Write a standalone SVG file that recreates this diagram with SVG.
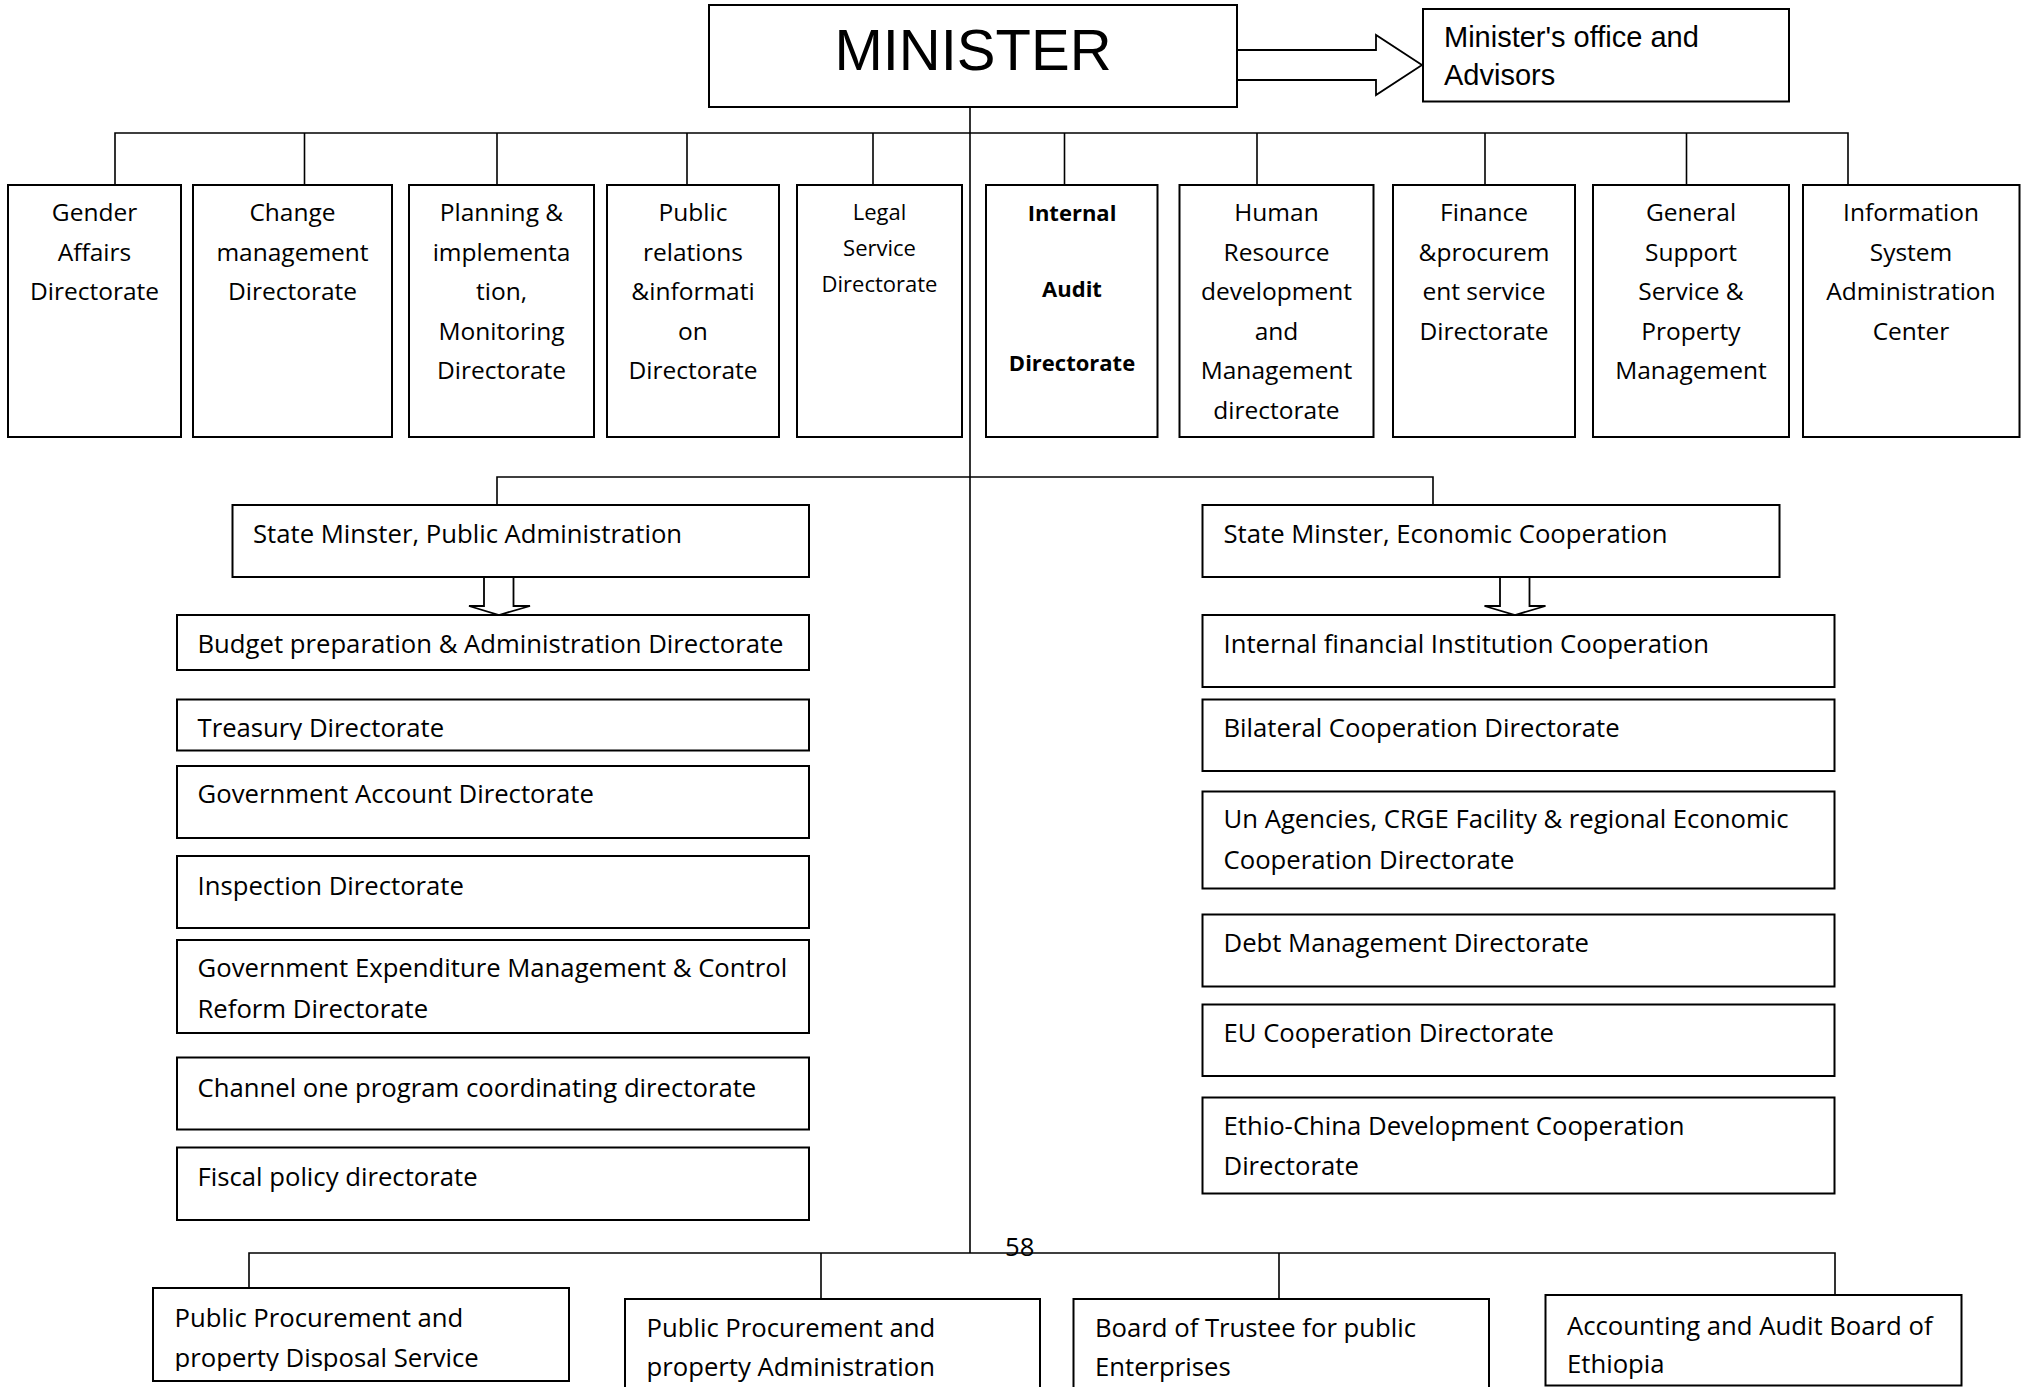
<svg xmlns="http://www.w3.org/2000/svg" width="2028" height="1387" viewBox="0 0 2028 1387">
<style>
.box{fill:#fff;stroke:#000;stroke-width:2}
.ln{fill:none;stroke:#000;stroke-width:1.6}
.harrow{fill:#fff;stroke:#000;stroke-width:1.8;stroke-linejoin:miter}
.t{font-family:"Open Sans","Noto Sans",sans-serif;font-size:24.5px;fill:#000}
.w{font-size:25.7px}
.c{text-anchor:middle}
.sm{font-size:22px}
.b{font-weight:bold;font-size:22px}
.ar{font-family:"Liberation Sans",Arial,sans-serif;fill:#000}
</style>
<defs>
<clipPath id="clipTreasury"><rect x="177" y="699" width="632" height="41"/></clipPath>
<clipPath id="clipPP1"><rect x="153" y="1288" width="416" height="83"/></clipPath>
</defs>
<rect width="2028" height="1387" fill="#fff"/>
<g id="connectors">
<line class="ln" x1="970" y1="107" x2="970" y2="1253"/>
<polyline class="ln" points="115,185 115,133 1848,133 1848,185"/>
<line class="ln" x1="304.5" y1="133" x2="304.5" y2="185"/>
<line class="ln" x1="497" y1="133" x2="497" y2="185"/>
<line class="ln" x1="687" y1="133" x2="687" y2="185"/>
<line class="ln" x1="873" y1="133" x2="873" y2="185"/>
<line class="ln" x1="1064.5" y1="133" x2="1064.5" y2="185"/>
<line class="ln" x1="1257" y1="133" x2="1257" y2="185"/>
<line class="ln" x1="1485" y1="133" x2="1485" y2="185"/>
<line class="ln" x1="1686.5" y1="133" x2="1686.5" y2="185"/>
<polyline class="ln" points="497,505 497,477 1433,477 1433,505"/>
<polyline class="ln" points="249,1288 249,1253 1835,1253 1835,1295"/>
<line class="ln" x1="821" y1="1253" x2="821" y2="1299"/>
<line class="ln" x1="1279" y1="1253" x2="1279" y2="1299"/>
<polygon class="harrow" points="1237,50 1376,50 1376,35 1422,65 1376,95 1376,80 1237,80"/>
<polygon class="harrow" points="484,577 513.5,577 513.5,606 530,606 499,615 469,606 484,606"/>
<polygon class="harrow" points="1500,577 1529.5,577 1529.5,606 1545.5,606 1515,615 1484.5,606 1500,606"/>
</g>
<g id="minister">
<rect class="box" x="709" y="5" width="528" height="102"/>
<text class="ar" x="973" y="70" font-size="58" text-anchor="middle">MINISTER</text>
</g>
<g id="ministers-office">
<rect class="box" x="1423" y="9" width="366" height="92.5"/>
<text class="ar" x="1444" y="46.5" font-size="29">Minister's office and</text>
<text class="ar" x="1444" y="85" font-size="29">Advisors</text>
</g>
<g id="gender">
<rect class="box" x="8" y="185" width="173" height="252"/>
<text class="t c" x="94.5" y="221">Gender</text>
<text class="t c" x="94.5" y="260.5">Affairs</text>
<text class="t c" x="94.5" y="300">Directorate</text>
</g>
<g id="change">
<rect class="box" x="193" y="185" width="199" height="252"/>
<text class="t c" x="292.5" y="221">Change</text>
<text class="t c" x="292.5" y="260.5">management</text>
<text class="t c" x="292.5" y="300">Directorate</text>
</g>
<g id="planning">
<rect class="box" x="409" y="185" width="185" height="252"/>
<text class="t c" x="501.5" y="221">Planning &amp;</text>
<text class="t c" x="501.5" y="260.5">implementa</text>
<text class="t c" x="501.5" y="300">tion,</text>
<text class="t c" x="501.5" y="339.5">Monitoring</text>
<text class="t c" x="501.5" y="379">Directorate</text>
</g>
<g id="public-relations">
<rect class="box" x="607" y="185" width="172" height="252"/>
<text class="t c" x="693" y="221">Public</text>
<text class="t c" x="693" y="260.5">relations</text>
<text class="t c" x="693" y="300">&amp;informati</text>
<text class="t c" x="693" y="339.5">on</text>
<text class="t c" x="693" y="379">Directorate</text>
</g>
<g id="legal">
<rect class="box" x="797" y="185" width="165" height="252"/>
<text class="t c sm" x="879.5" y="220">Legal</text>
<text class="t c sm" x="879.5" y="256">Service</text>
<text class="t c sm" x="879.5" y="291.5">Directorate</text>
</g>
<g id="internal-audit">
<rect class="box" x="986" y="185" width="171.5" height="252"/>
<text class="t c b" x="1072" y="221">Internal</text>
<text class="t c b" x="1072" y="296.5">Audit</text>
<text class="t c b" x="1072" y="371">Directorate</text>
</g>
<g id="human-resource">
<rect class="box" x="1179.5" y="185" width="194" height="252"/>
<text class="t c" x="1276.5" y="221">Human</text>
<text class="t c" x="1276.5" y="260.5">Resource</text>
<text class="t c" x="1276.5" y="300">development</text>
<text class="t c" x="1276.5" y="339.5">and</text>
<text class="t c" x="1276.5" y="379">Management</text>
<text class="t c" x="1276.5" y="418.5">directorate</text>
</g>
<g id="finance">
<rect class="box" x="1393" y="185" width="182" height="252"/>
<text class="t c" x="1484" y="221">Finance</text>
<text class="t c" x="1484" y="260.5">&amp;procurem</text>
<text class="t c" x="1484" y="300">ent service</text>
<text class="t c" x="1484" y="339.5">Directorate</text>
</g>
<g id="general-support">
<rect class="box" x="1593" y="185" width="196" height="252"/>
<text class="t c" x="1691" y="221">General</text>
<text class="t c" x="1691" y="260.5">Support</text>
<text class="t c" x="1691" y="300">Service &amp;</text>
<text class="t c" x="1691" y="339.5">Property</text>
<text class="t c" x="1691" y="379">Management</text>
</g>
<g id="information-system">
<rect class="box" x="1803" y="185" width="216.5" height="252"/>
<text class="t c" x="1911" y="221">Information</text>
<text class="t c" x="1911" y="260.5">System</text>
<text class="t c" x="1911" y="300">Administration</text>
<text class="t c" x="1911" y="339.5">Center</text>
</g>
<g id="state-minister-pa">
<rect class="box" x="232.5" y="505" width="576.5" height="72"/>
<text class="t w" x="253" y="543">State Minster, Public Administration</text>
</g>
<g id="budget">
<rect class="box" x="177" y="615" width="632" height="55"/>
<text class="t w" x="197.5" y="652.5">Budget preparation &amp; Administration Directorate</text>
</g>
<g id="treasury">
<rect class="box" x="177" y="699.5" width="632" height="51"/>
<text class="t w" x="197.5" y="736.5" clip-path="url(#clipTreasury)">Treasury Directorate</text>
</g>
<g id="government-account">
<rect class="box" x="177" y="766" width="632" height="72"/>
<text class="t w" x="197.5" y="803">Government Account Directorate</text>
</g>
<g id="inspection">
<rect class="box" x="177" y="856" width="632" height="72"/>
<text class="t w" x="197.5" y="895">Inspection Directorate</text>
</g>
<g id="expenditure-management">
<rect class="box" x="177" y="940" width="632" height="93"/>
<text class="t w" x="197.5" y="977">Government Expenditure Management &amp; Control</text>
<text class="t w" x="197.5" y="1018">Reform Directorate</text>
</g>
<g id="channel-one">
<rect class="box" x="177" y="1057.5" width="632" height="72"/>
<text class="t w" x="197.5" y="1096.5">Channel one program coordinating directorate</text>
</g>
<g id="fiscal-policy">
<rect class="box" x="177" y="1147.5" width="632" height="72.5"/>
<text class="t w" x="197.5" y="1186">Fiscal policy directorate</text>
</g>
<g id="state-minister-ec">
<rect class="box" x="1202.5" y="505" width="577" height="72"/>
<text class="t w" x="1223.5" y="543">State Minster, Economic Cooperation</text>
</g>
<g id="internal-financial">
<rect class="box" x="1202.5" y="615" width="632" height="72"/>
<text class="t w" x="1223.5" y="652.5">Internal financial Institution Cooperation</text>
</g>
<g id="bilateral">
<rect class="box" x="1202.5" y="699.5" width="632" height="71.5"/>
<text class="t w" x="1223.5" y="736.5">Bilateral Cooperation Directorate</text>
</g>
<g id="un-agencies">
<rect class="box" x="1202.5" y="791.5" width="632" height="97"/>
<text class="t w" x="1223.5" y="828">Un Agencies, CRGE Facility &amp; regional Economic</text>
<text class="t w" x="1223.5" y="869">Cooperation Directorate</text>
</g>
<g id="debt">
<rect class="box" x="1202.5" y="914.5" width="632" height="72"/>
<text class="t w" x="1223.5" y="951.5">Debt Management Directorate</text>
</g>
<g id="eu">
<rect class="box" x="1202.5" y="1004.5" width="632" height="71.5"/>
<text class="t w" x="1223.5" y="1042">EU Cooperation Directorate</text>
</g>
<g id="ethio-china">
<rect class="box" x="1202.5" y="1097.5" width="632" height="96"/>
<text class="t w" x="1223.5" y="1135">Ethio-China Development Cooperation</text>
<text class="t w" x="1223.5" y="1175">Directorate</text>
</g>
<text class="t w" x="1005" y="1256">58</text>
<g id="pp-disposal">
<rect class="box" x="153" y="1288" width="416" height="93"/>
<g clip-path="url(#clipPP1)">
<text class="t w" x="174.5" y="1326.5">Public Procurement and</text>
<text class="t w" x="174.5" y="1367">property Disposal Service</text>
</g>
</g>
<g id="pp-administration">
<rect class="box" x="625" y="1299" width="415" height="100"/>
<text class="t w" x="646.5" y="1336.5">Public Procurement and</text>
<text class="t w" x="646.5" y="1375.5">property Administration</text>
</g>
<g id="board-of-trustee">
<rect class="box" x="1073.5" y="1299" width="415.5" height="100"/>
<text class="t w" x="1095" y="1336.5">Board of Trustee for public</text>
<text class="t w" x="1095" y="1375.5">Enterprises</text>
</g>
<g id="accounting-audit-board">
<rect class="box" x="1545.5" y="1295" width="416" height="90.5"/>
<text class="t w" x="1567" y="1335">Accounting and Audit Board of</text>
<text class="t w" x="1567" y="1373">Ethiopia</text>
</g>
</svg>
